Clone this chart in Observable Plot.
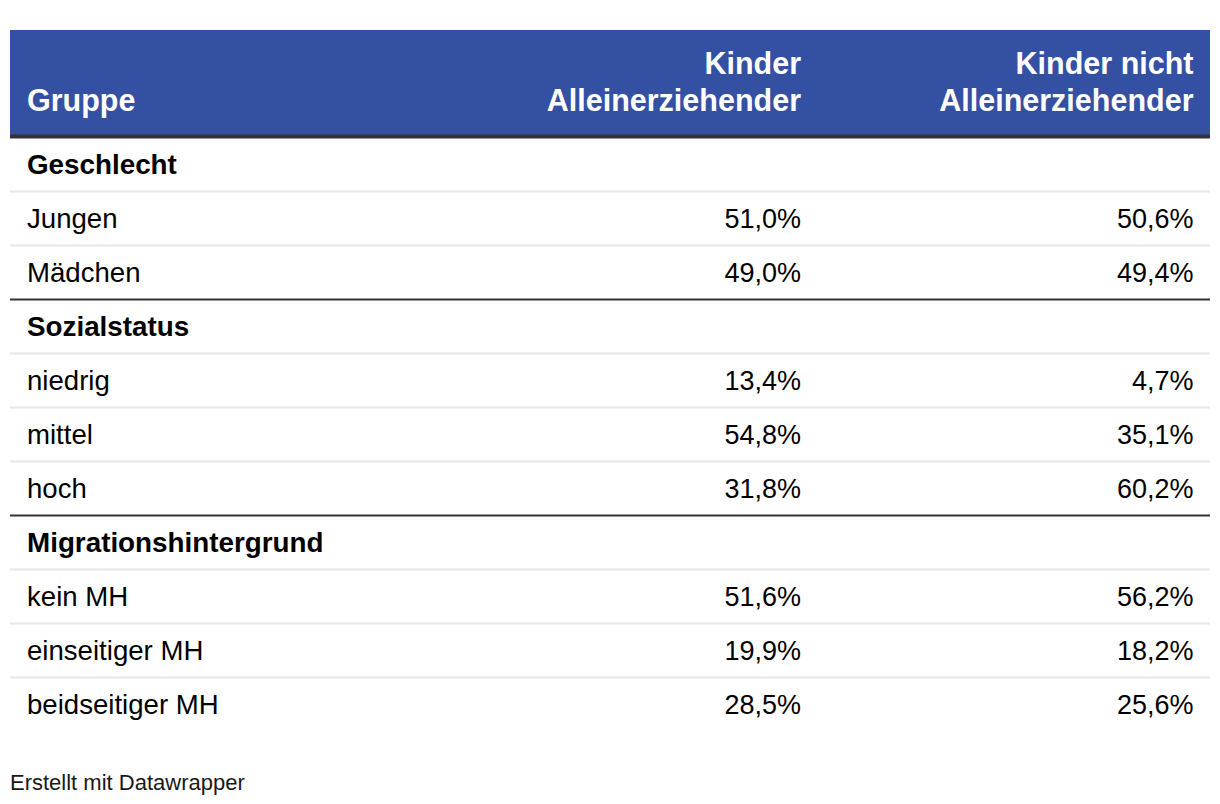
<!DOCTYPE html>
<html>
<head>
<meta charset="utf-8">
<script src="https://cdn.jsdelivr.net/npm/d3@7"></script>
<script src="https://cdn.jsdelivr.net/npm/@observablehq/plot@0.6"></script>
<style>
  html, body { margin: 0; padding: 0; background: #ffffff; }
  #chart svg { display: block; }
  #footer { font-family: "Liberation Sans", Arial, sans-serif; font-size: 22px; line-height: 25px; color: #181818; padding-left: 10px; }
</style>
</head>
<body>
<div id="chart"></div>
<div id="footer">Erstellt mit Datawrapper</div>
<script>
// ---- data ----
const columnKeys = ["gruppe", "allein", "nicht"];
const columnHeaders = ["Gruppe", "Kinder\nAlleinerziehender", "Kinder nicht\nAlleinerziehender"];
const groups = ["Geschlecht", "Sozialstatus", "Migrationshintergrund"];
const categories = ["Jungen", "Mädchen", "niedrig", "mittel", "hoch", "kein MH", "einseitiger MH", "beidseitiger MH"];
const categoryGroup = ["Geschlecht", "Geschlecht", "Sozialstatus", "Sozialstatus", "Sozialstatus", "Migrationshintergrund", "Migrationshintergrund", "Migrationshintergrund"];
const kinderAlleinerziehender = [51.0, 49.0, 13.4, 54.8, 31.8, 51.6, 19.9, 28.5];
const kinderNichtAlleinerziehender = [50.6, 49.4, 4.7, 35.1, 60.2, 56.2, 18.2, 25.6];

// ---- build table rows ----
const rows = [];
groups.forEach(g => {
  rows.push({label: g, isGroup: true});
  categories.forEach((c, i) => {
    if (categoryGroup[i] === g) rows.push({label: c, isGroup: false, a: kinderAlleinerziehender[i], b: kinderNichtAlleinerziehender[i]});
  });
});
rows.forEach((r, i) => { r.row = i; });
const fmt = v => v.toFixed(1).replace(".", ",") + "%";
const HEADER_ROWS = 2;
const bodyRows = rows.filter(r => !r.isGroup);
const groupRows = rows.filter(r => r.isGroup);
const dividers = rows.slice(0, -1).map((r, i) => ({row: r.row, dark: rows[i + 1].isGroup}));
const headers = columnKeys.map((k, i) => ({col: i, text: columnHeaders[i]}));
const col = k => columnKeys.indexOf(k);

const font = "'Liberation Sans', Arial, sans-serif";
const blue = "#3350a3";

const chart = Plot.plot({
  width: 1220,
  height: 770,
  marginLeft: 10,
  marginRight: 10,
  marginTop: 30,
  marginBottom: 38,
  style: {fontFamily: font, background: "#ffffff", color: "#000"},
  x: {type: "linear", domain: [0, 1, 2], range: [26.5, 800.5, 1193], axis: null},
  y: {type: "linear", domain: [0, HEADER_ROWS + rows.length], range: [30, 30 + 54 * (HEADER_ROWS + rows.length)], axis: null},
  marks: [
    // header background
    Plot.rectY([{y1: 0, y2: HEADER_ROWS}], {y1: "y1", y2: "y2", fill: blue}),
    Plot.ruleY([HEADER_ROWS], {stroke: "#333333", strokeWidth: 4, dy: -2}),
    // header texts
    Plot.text(headers.filter(h => h.col === 0), {x: "col", y: () => HEADER_ROWS, text: "text", textAnchor: "start", lineAnchor: "bottom", lineHeight: 1.19, dy: -28, fill: "#ffffff", fontWeight: "bold", fontSize: 30.5}),
    Plot.text(headers.filter(h => h.col !== 0), {x: "col", y: () => HEADER_ROWS, text: "text", textAnchor: "end", lineAnchor: "bottom", lineHeight: 1.19, dy: -28, fill: "#ffffff", fontWeight: "bold", fontSize: 30.5}),
    // dividers
    Plot.ruleY(dividers.filter(d => !d.dark), {y: d => HEADER_ROWS + d.row + 1, stroke: "#e8e8e8", strokeWidth: 2, dy: -1}),
    Plot.ruleY(dividers.filter(d => d.dark), {y: d => HEADER_ROWS + d.row + 1, stroke: "#333333", strokeWidth: 2, dy: -1}),
    // group labels
    Plot.text(groupRows, {x: () => col("gruppe"), y: d => HEADER_ROWS + d.row + 0.5, text: "label", textAnchor: "start", fontWeight: "bold", fontSize: 27.8, fill: "#000"}),
    // category labels
    Plot.text(bodyRows, {x: () => col("gruppe"), y: d => HEADER_ROWS + d.row + 0.5, text: "label", textAnchor: "start", fontSize: 27.6, fill: "#000"}),
    // values
    Plot.text(bodyRows, {x: () => col("allein"), y: d => HEADER_ROWS + d.row + 0.5, text: d => fmt(d.a), textAnchor: "end", fontSize: 27, fill: "#000"}),
    Plot.text(bodyRows, {x: () => col("nicht"), y: d => HEADER_ROWS + d.row + 0.5, text: d => fmt(d.b), textAnchor: "end", fontSize: 27, fill: "#000"})
  ]
});
document.getElementById("chart").appendChild(chart);
</script>
</body>
</html>
